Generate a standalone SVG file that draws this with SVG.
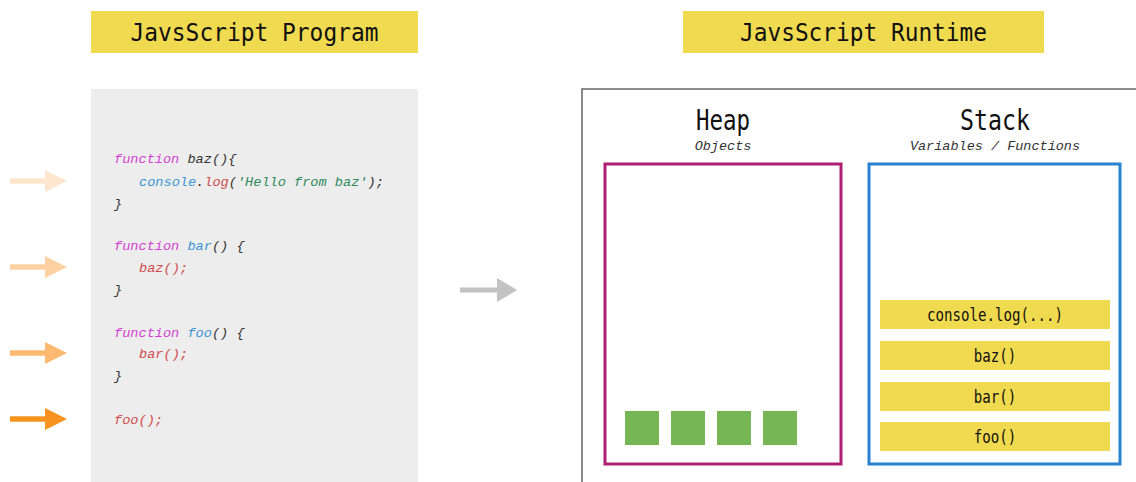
<svg xmlns="http://www.w3.org/2000/svg" width="1136" height="482" viewBox="0 0 1136 482">
<defs>
<style>
.title{font-family:"DejaVu Sans Mono","Liberation Mono",monospace;font-size:25px;fill:#111;text-anchor:middle}
.banner{fill:#f0da4f}
.code{font-family:"Liberation Mono","DejaVu Sans Mono",monospace;font-size:13.6px;font-style:italic}
.kw{fill:#d43fd4}.nm{fill:#333}.fn{fill:#3a95d5}.call{fill:#d24b4b}.str{fill:#2e8a5a}
.hd{font-family:"DejaVu Sans Mono","Liberation Mono",monospace;font-size:29px;fill:#111;text-anchor:middle}
.sub{font-family:"Liberation Mono","DejaVu Sans Mono",monospace;font-size:13.5px;font-style:italic;fill:#333;text-anchor:middle}
.frame{fill:#f0da4f}
.ft{font-family:"DejaVu Sans Mono","Liberation Mono",monospace;font-size:17px;fill:#111;text-anchor:middle}
.obj{fill:#77b655}
</style>
<path id="arr" d="M0,-2.8 H35 V-11 L57,0 L35,11 V2.8 H0 Z"/>
</defs>
<rect width="1136" height="482" fill="#fff"/>
<g id="program-title">
<rect class="banner" x="91" y="11" width="327" height="42"/>
<text class="title" x="254.5" y="41" textLength="248" lengthAdjust="spacingAndGlyphs">JavsScript Program</text>
</g>
<g id="runtime-title">
<rect class="banner" x="683" y="11" width="361" height="42"/>
<text class="title" x="863.5" y="41" textLength="247" lengthAdjust="spacingAndGlyphs">JavsScript Runtime</text>
</g>
<g id="program">
<rect x="91" y="89" width="327" height="400" fill="#ededed"/>
<text class="code" x="114" y="163"><tspan class="kw">function</tspan><tspan class="nm"> baz(){</tspan></text>
<text class="code" x="139" y="186"><tspan class="fn">console</tspan><tspan class="nm">.</tspan><tspan class="call">log</tspan><tspan class="nm">(</tspan><tspan class="str">'Hello from baz'</tspan><tspan class="nm">);</tspan></text>
<text class="code nm" x="114" y="208">}</text>
<text class="code" x="114" y="250"><tspan class="kw">function</tspan><tspan class="fn"> bar</tspan><tspan class="nm">() {</tspan></text>
<text class="code call" x="139" y="272">baz();</text>
<text class="code nm" x="114" y="294">}</text>
<text class="code" x="114" y="337"><tspan class="kw">function</tspan><tspan class="fn"> foo</tspan><tspan class="nm">() {</tspan></text>
<text class="code call" x="139" y="358">bar();</text>
<text class="code nm" x="114" y="380">}</text>
<text class="code call" x="114" y="424">foo();</text>
</g>
<g id="connectors">
<use href="#arr" x="10" y="181" fill="#fde6cd"/>
<use href="#arr" x="10" y="267" fill="#fdd1a2"/>
<use href="#arr" x="10" y="353" fill="#fdb970"/>
<use href="#arr" x="10" y="419" fill="#f7931f"/>
<path d="M460,287.5 H497 V278 L517,290 L497,302 V292.5 H460 Z" fill="#c3c3c3"/>
</g>
<g id="runtime">
<rect x="582" y="89" width="600" height="450" fill="none" stroke="#666" stroke-width="1.5"/>
</g>
<g id="heap">
<text class="hd" x="723" y="130" textLength="54" lengthAdjust="spacingAndGlyphs">Heap</text>
<text class="sub" x="723" y="150">Objects</text>
<rect x="605" y="164" width="236" height="300" fill="none" stroke="#ae1f74" stroke-width="3"/>
<rect class="obj" x="625" y="411" width="34" height="34"/>
<rect class="obj" x="671" y="411" width="34" height="34"/>
<rect class="obj" x="717" y="411" width="34" height="34"/>
<rect class="obj" x="763" y="411" width="34" height="34"/>
</g>
<g id="stack">
<text class="hd" x="995" y="130" textLength="70" lengthAdjust="spacingAndGlyphs">Stack</text>
<text class="sub" x="995" y="150">Variables / Functions</text>
<rect x="869" y="164" width="251" height="300" fill="none" stroke="#2a82d0" stroke-width="3"/>
<rect class="frame" x="880" y="300" width="230" height="29"/>
<text class="ft" x="995" y="321" textLength="136" lengthAdjust="spacingAndGlyphs">console.log(...)</text>
<rect class="frame" x="880" y="341" width="230" height="29"/>
<text class="ft" x="995" y="362" textLength="42.5" lengthAdjust="spacingAndGlyphs">baz()</text>
<rect class="frame" x="880" y="382" width="230" height="29"/>
<text class="ft" x="995" y="403" textLength="42.5" lengthAdjust="spacingAndGlyphs">bar()</text>
<rect class="frame" x="880" y="422" width="230" height="29"/>
<text class="ft" x="995" y="443" textLength="42.5" lengthAdjust="spacingAndGlyphs">foo()</text>
</g>
</svg>
